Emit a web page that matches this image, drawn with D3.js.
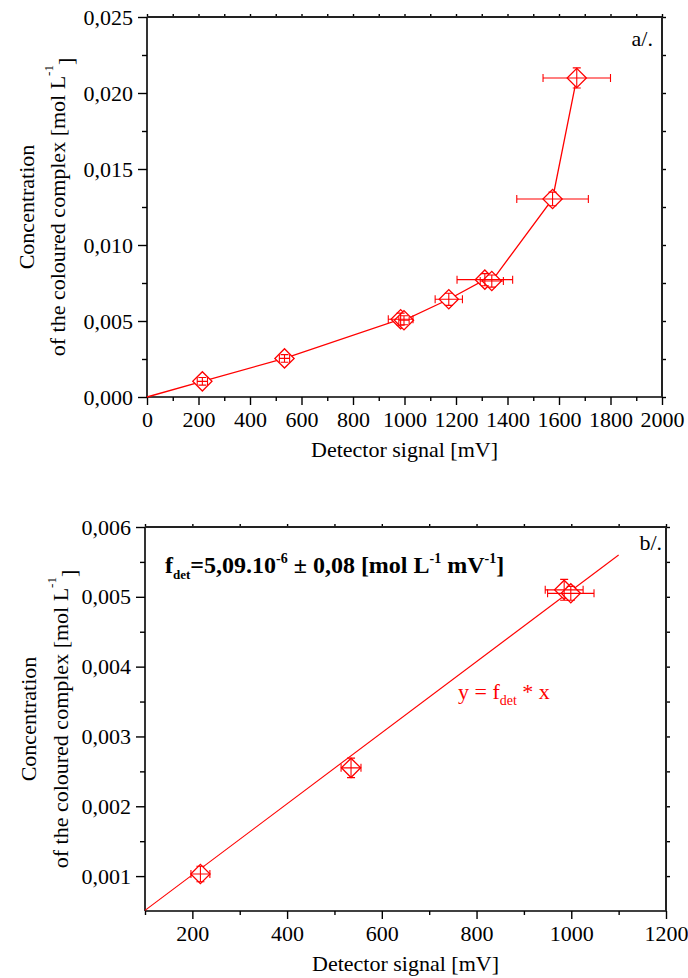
<!DOCTYPE html>
<html>
<head>
<meta charset="utf-8">
<script src="https://cdn.jsdelivr.net/npm/d3@7"></script>
<style>
  html, body { margin: 0; padding: 0; background: #fff; }
  svg { display: block; }
  text { font-family: "Liberation Serif", "Times New Roman", serif; }
</style>
</head>
<body>
<svg id="chart" width="688" height="978"></svg>
<script>
// ---- Panel a/: calibration points, detector signal vs concentration ----
const topStart = [0, 0];                 // polyline begins at the origin
const topSignal    = [215, 534, 985, 998, 1172, 1312, 1339, 1575, 1669];
const topConc      = [0.00103, 0.00254, 0.00512, 0.00505, 0.00643, 0.00772, 0.00763, 0.01303, 0.02099];
const topSignalErr = [20, 20, 48, 20, 53, 108, 45, 139, 131];
const topConcErr   = [0.00025, 0.00025, 0.0004, 0.0003, 0.0004, 0.0004, 0.0004, 0.00045, 0.00066];
const topXTicks = [0, 200, 400, 600, 800, 1000, 1200, 1400, 1600, 1800, 2000];
const topYTicks = [0, 0.005, 0.010, 0.015, 0.020, 0.025];

// ---- Panel b/: linear range with fitted detector factor ----
const fitSignal    = [217, 535, 985, 999];
const fitConc      = [0.00103, 0.00255, 0.0051, 0.00505];
const fitSignalErr = [20, 21, 40, 49];
const fitConcErr   = [0.00011, 0.00014, 0.00015, 0.0001];
const fDet = 5.09e-6;
const fitRange = [100, 1100];
const botXTicks = [200, 400, 600, 800, 1000, 1200];
const botYTicks = [0.001, 0.002, 0.003, 0.004, 0.005, 0.006];

const RED = "#ff0000";
const FONT = 22;
const svg = d3.select("#chart");
const fmtConc = d => d3.format(".3f")(d).replace(".", ",");

function minorBetween(ticks, step) {
  const out = [];
  for (let i = 0; i < ticks.length - 1; i++) out.push(ticks[i] + step);
  return out;
}

function drawPanel(cfg) {
  const g = svg.append("g");
  const x = d3.scaleLinear().domain(cfg.xDomain).range([cfg.left, cfg.right]);
  const y = d3.scaleLinear().domain(cfg.yDomain).range([cfg.bottom, cfg.top]);

  const styleAxis = (sel) => {
    sel.attr("font-family", "Liberation Serif").attr("font-size", FONT);
    sel.selectAll("line").attr("stroke", "#000").attr("stroke-width", 1.4);
    sel.selectAll("path.domain").remove();
    sel.selectAll("text").attr("fill", "#000");
  };

  // bottom axis: major + minor ticks
  const xMinor = cfg.xMinor;
  g.append("g").attr("transform", `translate(0,${cfg.bottom})`)
    .call(d3.axisBottom(x).tickValues(xMinor).tickSize(4).tickFormat(""))
    .call(styleAxis);
  g.append("g").attr("transform", `translate(0,${cfg.bottom})`)
    .call(d3.axisBottom(x).tickValues(cfg.xTicks).tickSize(8).tickPadding(6).tickFormat(d3.format("d")))
    .call(styleAxis)
    .selectAll("text").attr("dy", "0.71em");

  // left axis
  g.append("g").attr("transform", `translate(${cfg.left},0)`)
    .call(d3.axisLeft(y).tickValues(cfg.yMinor).tickSize(5).tickFormat(""))
    .call(styleAxis);
  g.append("g").attr("transform", `translate(${cfg.left},0)`)
    .call(d3.axisLeft(y).tickValues(cfg.yTicks).tickSize(9).tickPadding(5).tickFormat(fmtConc))
    .call(styleAxis);

  // mirrored ticks on top and right
  const allX = cfg.xTicks.concat(xMinor);
  g.append("g").attr("transform", `translate(0,${cfg.top})`)
    .call(d3.axisTop(x).tickValues(allX).tickSize(3).tickFormat(""))
    .call(styleAxis);
  const allY = cfg.yTicks.concat(cfg.yMinor);
  g.append("g").attr("transform", `translate(${cfg.right},0)`)
    .call(d3.axisRight(y).tickValues(allY).tickSize(4).tickFormat(""))
    .call(styleAxis);

  // frame
  g.append("line").attr("x1", cfg.left).attr("x2", cfg.right).attr("y1", cfg.bottom).attr("y2", cfg.bottom)
    .attr("stroke", "#000").attr("stroke-width", 1.6);
  g.append("line").attr("x1", cfg.left).attr("x2", cfg.left).attr("y1", cfg.top).attr("y2", cfg.bottom)
    .attr("stroke", "#000").attr("stroke-width", 1.6);
  g.append("line").attr("x1", cfg.left).attr("x2", cfg.right).attr("y1", cfg.top).attr("y2", cfg.top)
    .attr("stroke", "#222").attr("stroke-width", 2);
  g.append("line").attr("x1", cfg.right).attr("x2", cfg.right).attr("y1", cfg.top).attr("y2", cfg.bottom)
    .attr("stroke", "#222").attr("stroke-width", 2);

  // axis titles
  g.append("text").attr("x", (cfg.left + cfg.right) / 2).attr("y", cfg.bottom + 60)
    .attr("text-anchor", "middle").attr("font-size", FONT).text("Detector signal [mV]");
  const cy = (cfg.top + cfg.bottom) / 2;
  g.append("text").attr("transform", `translate(${cfg.titleX1},${cy}) rotate(-90)`)
    .attr("text-anchor", "middle").attr("dy", "0.35em").attr("font-size", FONT).text("Concentration");
  const t2 = g.append("text").attr("transform", `translate(${cfg.titleX2},${cy}) rotate(-90)`)
    .attr("text-anchor", "middle").attr("dy", "0.35em").attr("font-size", FONT);
  t2.append("tspan").text("of the coloured complex [mol L");
  t2.append("tspan").attr("font-size", 13).attr("dy", "-0.9em").text("-1");
  t2.append("tspan").attr("dy", "0.9em").text("]");

  // panel tag
  g.append("text").attr("x", cfg.tagX).attr("y", cfg.tagY).attr("text-anchor", "end")
    .attr("font-size", FONT).text(cfg.tag);

  return { g, x, y };
}

function drawMarkers(g, x, y, xs, ys, xe, ye) {
  const pts = xs.map((v, i) => ({ x: v, y: ys[i], xe: xe[i], ye: ye[i] }));
  // open diamonds
  g.append("g").selectAll("path").data(pts).join("path")
    .attr("d", d3.symbol(d3.symbolSquare, 185))
    .attr("transform", d => `translate(${x(d.x)},${y(d.y)}) rotate(45)`)
    .attr("fill", "#fff").attr("stroke", RED).attr("stroke-width", 1.3);
  // error bars
  const cap = 4;
  const eb = g.append("g").attr("stroke", RED).attr("stroke-width", 1.1).attr("fill", "none");
  pts.forEach(d => {
    const cx = x(d.x), cyv = y(d.y);
    const x0 = x(d.x - d.xe), x1 = x(d.x + d.xe);
    const y0 = y(d.y - d.ye), y1 = y(d.y + d.ye);
    eb.append("path").attr("d",
      `M${x0},${cyv}H${x1}M${x0},${cyv - cap}V${cyv + cap}M${x1},${cyv - cap}V${cyv + cap}` +
      `M${cx},${y0}V${y1}M${cx - cap},${y0}H${cx + cap}M${cx - cap},${y1}H${cx + cap}`);
  });
}

// ----- panel a/ -----
const a = drawPanel({
  left: 147, right: 662, top: 17, bottom: 397,
  xDomain: [0, 2000], yDomain: [0, 0.025],
  xTicks: topXTicks, xMinor: minorBetween(topXTicks, 100),
  yTicks: topYTicks, yMinor: minorBetween(topYTicks, 0.0025),
  titleX1: 26, titleX2: 57, tag: "a/.", tagX: 653, tagY: 46
});
const topLine = [topStart].concat(topSignal.map((v, i) => [v, topConc[i]]));
a.g.append("path").datum(topLine)
  .attr("d", d3.line().x(d => a.x(d[0])).y(d => a.y(d[1])))
  .attr("fill", "none").attr("stroke", RED).attr("stroke-width", 1.3);
drawMarkers(a.g, a.x, a.y, topSignal, topConc, topSignalErr, topConcErr);

// ----- panel b/ -----
const b = drawPanel({
  left: 145, right: 666, top: 527, bottom: 911,
  xDomain: [100, 1200], yDomain: [0.0005, 0.006],
  xTicks: botXTicks, xMinor: [100, 300, 500, 700, 900, 1100],
  yTicks: botYTicks, yMinor: [0.0015, 0.0025, 0.0035, 0.0045, 0.0055],
  titleX1: 28, titleX2: 60, tag: "b/.", tagX: 662, tagY: 550
});
b.g.append("path").datum(fitRange.map(v => [v, fDet * v]))
  .attr("d", d3.line().x(d => b.x(d[0])).y(d => b.y(d[1])))
  .attr("fill", "none").attr("stroke", RED).attr("stroke-width", 1.1);
drawMarkers(b.g, b.x, b.y, fitSignal, fitConc, fitSignalErr, fitConcErr);

// fitted factor annotation
const ft = b.g.append("text").attr("x", 165).attr("y", 573)
  .attr("font-size", 24).attr("font-weight", "bold");
ft.append("tspan").text("f");
ft.append("tspan").attr("font-size", 13).attr("dy", 6).text("det");
ft.append("tspan").attr("dy", -6).text("=5,09.10");
ft.append("tspan").attr("font-size", 14).attr("dy", -10).text("-6");
ft.append("tspan").attr("dy", 10).text(" ± 0,08 [mol L");
ft.append("tspan").attr("font-size", 14).attr("dy", -10).text("-1");
ft.append("tspan").attr("dy", 10).text(" mV");
ft.append("tspan").attr("font-size", 14).attr("dy", -10).text("-1");
ft.append("tspan").attr("dy", 10).text("]");

// model equation
const eq = b.g.append("text").attr("x", 458).attr("y", 699)
  .attr("font-size", FONT).attr("fill", RED);
eq.append("tspan").text("y = f");
eq.append("tspan").attr("font-size", 14).attr("dy", 6).text("det");
eq.append("tspan").attr("dy", -6).text(" * x");
</script>
</body>
</html>
